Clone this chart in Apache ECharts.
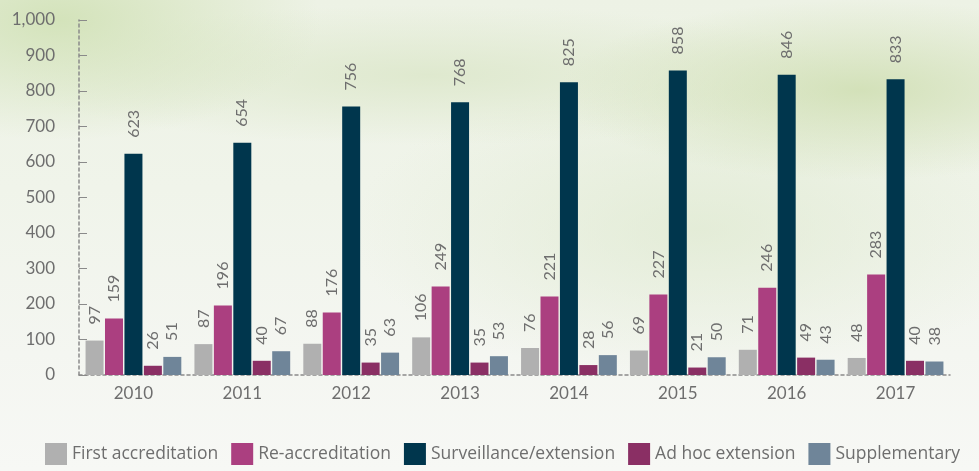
<!DOCTYPE html>
<html>
<head>
<meta charset="utf-8">
<script src="https://cdn.jsdelivr.net/npm/echarts@6/dist/echarts.min.js"></script>
<style>
  html, body { margin: 0; padding: 0; }
  body {
    width: 979px; height: 471px; overflow: hidden;
    background:
      radial-gradient(ellipse 260px 120px at 60px 20px, rgba(210,226,184,0.95), rgba(210,226,184,0)),
      radial-gradient(ellipse 300px 90px at 860px 90px, rgba(208,223,180,0.9), rgba(208,223,180,0)),
      radial-gradient(ellipse 420px 70px at 430px 75px, rgba(220,231,202,0.85), rgba(220,231,202,0)),
      radial-gradient(ellipse 350px 150px at 700px 230px, rgba(222,233,207,0.7), rgba(222,233,207,0)),
      linear-gradient(to bottom, #edf2e5 0%, #f0f4ea 40%, #f4f6f1 75%, #f7f8f5 100%);
  }
  #chart { width: 979px; height: 471px; }
</style>
</head>
<body>
<div id="chart"></div>
<script>
var years = ['2010', '2011', '2012', '2013', '2014', '2015', '2016', '2017'];
var firstAccreditation = [97, 87, 88, 106, 76, 69, 71, 48];
var reAccreditation = [159, 196, 176, 249, 221, 227, 246, 283];
var surveillance = [623, 654, 756, 768, 825, 858, 846, 833];
var adHocExtension = [26, 40, 35, 35, 28, 21, 49, 40];
var supplementary = [51, 67, 63, 53, 56, 50, 43, 38];

var textColor = '#6e6e6e';
var fontName = 'Lato';

function makeSeries(name, data, color) {
  return {
    name: name,
    type: 'bar',
    data: data,
    barWidth: 18,
    barGap: '8%',
    itemStyle: { color: color },
    label: {
      show: true,
      position: 'top',
      rotate: 90,
      distance: 16,
      align: 'left',
      verticalAlign: 'middle',
      color: textColor,
      fontFamily: fontName,
      fontSize: 16
    }
  };
}

var chart = echarts.init(document.getElementById('chart'));
chart.setOption({
  animation: false,
  grid: { left: 79, right: 29, top: 20, bottom: 96 },
  legend: {
    left: 40,
    width: 939,
    bottom: 1,
    itemWidth: 22,
    itemHeight: 22,
    itemGap: 13,
    icon: 'rect',
    textStyle: { color: textColor, fontFamily: 'Open Sans', fontSize: 17.5 },
    data: ['First accreditation', 'Re-accreditation', 'Surveillance/extension', 'Ad hoc extension', 'Supplementary']
  },
  xAxis: {
    type: 'category',
    data: years,
    axisLine: { lineStyle: { color: '#8a8a8a', type: [3, 3], width: 1.5 } },
    axisTick: { inside: true, length: 7, lineStyle: { color: '#8a8a8a' } },
    axisLabel: { color: textColor, fontFamily: fontName, fontSize: 17, margin: 10 }
  },
  yAxis: {
    type: 'value',
    min: 0,
    max: 1000,
    interval: 100,
    axisLine: { show: true, lineStyle: { color: '#8a8a8a', type: [3, 3], width: 1.5 } },
    axisTick: { show: true, inside: true, length: 8, lineStyle: { color: '#8a8a8a' } },
    splitLine: { show: false },
    axisLabel: {
      color: textColor, fontFamily: fontName, fontSize: 17, margin: 24,
      formatter: function (v) { return v.toLocaleString('en-US'); }
    }
  },
  series: [
    makeSeries('First accreditation', firstAccreditation, '#b0b0b0'),
    makeSeries('Re-accreditation', reAccreditation, '#ab3f80'),
    makeSeries('Surveillance/extension', surveillance, '#00364d'),
    makeSeries('Ad hoc extension', adHocExtension, '#8a2f64'),
    makeSeries('Supplementary', supplementary, '#6f8599')
  ]
});
</script>
</body>
</html>
